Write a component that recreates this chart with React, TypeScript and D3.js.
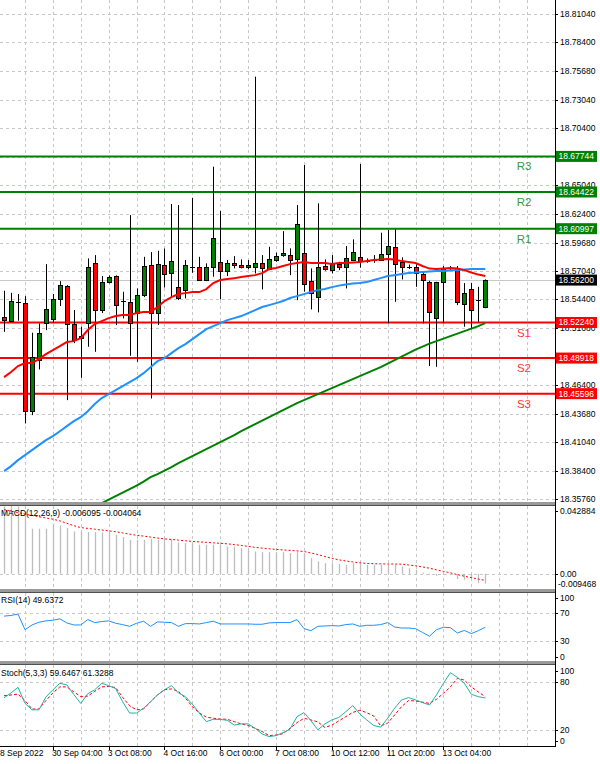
import React from "react";
import * as d3 from "d3";

// ---------- DATA ----------
// bar index (H4 bars), 0 = first grid bar
const bars: number[] = d3.range(-3, 67);

// OHLC [open, high, low, close]
const candles: [number, number, number, number][] = [
  [18.5277, 18.5520, 18.5137, 18.5253],
  [18.5240, 18.5501, 18.5230, 18.5424],
  [18.5414, 18.5489, 18.5240, 18.5419],
  [18.5402, 18.5470, 18.4281, 18.4390],
  [18.4390, 18.5128, 18.4359, 18.4898],
  [18.4873, 18.5215, 18.4786, 18.5122],
  [18.5215, 18.5769, 18.5153, 18.5346],
  [18.5256, 18.5489, 18.5218, 18.5442],
  [18.5442, 18.5610, 18.5377, 18.5573],
  [18.5567, 18.5573, 18.4499, 18.5215],
  [18.5209, 18.5340, 18.5031, 18.5059],
  [18.5078, 18.5184, 18.4707, 18.5097],
  [18.5215, 18.5822, 18.4997, 18.5738],
  [18.5776, 18.5853, 18.4950, 18.5340],
  [18.5340, 18.5657, 18.5312, 18.5604],
  [18.5598, 18.5664, 18.5589, 18.5645],
  [18.5657, 18.5664, 18.5200, 18.5386],
  [18.5424, 18.5511, 18.5262, 18.5419],
  [18.5417, 18.6227, 18.4913, 18.5225],
  [18.5309, 18.5542, 18.4857, 18.5480],
  [18.5480, 18.5837, 18.5461, 18.5751],
  [18.5760, 18.5881, 18.4515, 18.5309],
  [18.5309, 18.5893, 18.5200, 18.5769],
  [18.5760, 18.5914, 18.5550, 18.5676],
  [18.5688, 18.6330, 18.5464, 18.5800],
  [18.5557, 18.6320, 18.5433, 18.5458],
  [18.5526, 18.5807, 18.5449, 18.5760],
  [18.5741, 18.6388, 18.5688, 18.5746],
  [18.5744, 18.5837, 18.5613, 18.5626],
  [18.5620, 18.5776, 18.5610, 18.5738],
  [18.5738, 18.6678, 18.5651, 18.6009],
  [18.5791, 18.6264, 18.5440, 18.5707],
  [18.5697, 18.5807, 18.5657, 18.5776],
  [18.5776, 18.5844, 18.5729, 18.5753],
  [18.5760, 18.5813, 18.5729, 18.5744],
  [18.5738, 18.5807, 18.5720, 18.5760],
  [18.5738, 18.7519, 18.5682, 18.5776],
  [18.5776, 18.5853, 18.5533, 18.5729],
  [18.5723, 18.5931, 18.5713, 18.5816],
  [18.5813, 18.5877, 18.5791, 18.5847],
  [18.5850, 18.6077, 18.5837, 18.5869],
  [18.5853, 18.5916, 18.5666, 18.5807],
  [18.5813, 18.6320, 18.5433, 18.6143],
  [18.5869, 18.6694, 18.5511, 18.5582],
  [18.5610, 18.5729, 18.5346, 18.5496],
  [18.5458, 18.6336, 18.5318, 18.5738],
  [18.5751, 18.5813, 18.5707, 18.5720],
  [18.5720, 18.5853, 18.5682, 18.5781],
  [18.5766, 18.5791, 18.5713, 18.5735],
  [18.5738, 18.5937, 18.5542, 18.5825],
  [18.5807, 18.6000, 18.5800, 18.5879],
  [18.5837, 18.6703, 18.5735, 18.5800],
  [18.5802, 18.5822, 18.5781, 18.5797],
  [18.5807, 18.5853, 18.5781, 18.5804],
  [18.5807, 18.6062, 18.5800, 18.5863],
  [18.5863, 18.6087, 18.5215, 18.5937],
  [18.5931, 18.6093, 18.5417, 18.5776],
  [18.5785, 18.5832, 18.5626, 18.5735],
  [18.5744, 18.5765, 18.5723, 18.5741],
  [18.5738, 18.5769, 18.5557, 18.5685],
  [18.5673, 18.5697, 18.5215, 18.5613],
  [18.5604, 18.5613, 18.4817, 18.5324],
  [18.5262, 18.5604, 18.4810, 18.5598],
  [18.5604, 18.5751, 18.5215, 18.5735],
  [18.5735, 18.5751, 18.5707, 18.5732],
  [18.5729, 18.5751, 18.5386, 18.5408],
  [18.5402, 18.5592, 18.5184, 18.5501],
  [18.5533, 18.5592, 18.5159, 18.5340],
  [18.5432, 18.5557, 18.5230, 18.5437],
  [18.5370, 18.5626, 18.5358, 18.5620],
];

const maRed: number[] = [
  18.4714, 18.4761, 18.4817, 18.4845, 18.4845, 18.4882, 18.4929, 18.4966, 18.5003, 18.5041,
  18.5050, 18.5078, 18.5153, 18.5209, 18.5237, 18.5265, 18.5284, 18.5293, 18.5293, 18.5312,
  18.5321, 18.5321, 18.5368, 18.5424, 18.5461, 18.5489, 18.5498, 18.5508, 18.5508, 18.5536,
  18.5592, 18.5620, 18.5629, 18.5638, 18.5648, 18.5657, 18.5666, 18.5685, 18.5723, 18.5732,
  18.5751, 18.5769, 18.5779, 18.5788, 18.5779, 18.5779, 18.5779, 18.5769, 18.5779, 18.5779,
  18.5783, 18.5788, 18.5797, 18.5807, 18.5811, 18.5816, 18.5811, 18.5797, 18.5788, 18.5779,
  18.5751, 18.5727, 18.5723, 18.5727, 18.5732, 18.5727, 18.5713, 18.5690, 18.5671, 18.5657,
];

const maBlue: number[] = [
  18.3836, 18.3883, 18.3939, 18.3985, 18.4032, 18.4079, 18.4125, 18.4163, 18.4209, 18.4256,
  18.4303, 18.4340, 18.4396, 18.4462, 18.4518, 18.4555, 18.4592, 18.4630, 18.4667, 18.4704,
  18.4751, 18.4807, 18.4863, 18.4891, 18.4938, 18.4985, 18.5022, 18.5069, 18.5115, 18.5162,
  18.5190, 18.5218, 18.5246, 18.5265, 18.5284, 18.5312, 18.5340, 18.5368, 18.5386, 18.5405,
  18.5424, 18.5452, 18.5470, 18.5489, 18.5508, 18.5526, 18.5536, 18.5554, 18.5568, 18.5578,
  18.5587, 18.5592, 18.5601, 18.5620, 18.5638, 18.5657, 18.5666, 18.5676, 18.5685, 18.5690,
  18.5695, 18.5699, 18.5704, 18.5704, 18.5709, 18.5713, 18.5718, 18.5723, 18.5723, 18.5723,
];

// long MA, visible from bar 10 on (earlier values lie below the window)
const maGreen: (number | null)[] = [
  null, null, null, null, null, null, null, null, null, null, null, null, null,
  18.3500, 18.3537, 18.3570, 18.3602, 18.3635, 18.3668, 18.3700, 18.3738, 18.3780, 18.3808,
  18.3841, 18.3873, 18.3911, 18.3943, 18.3976, 18.4009, 18.4041, 18.4074, 18.4107, 18.4139,
  18.4172, 18.4209, 18.4242, 18.4275, 18.4308, 18.4340, 18.4373, 18.4406, 18.4438, 18.4471,
  18.4499, 18.4527, 18.4555, 18.4583, 18.4611, 18.4639, 18.4667, 18.4695, 18.4723, 18.4751,
  18.4779, 18.4807, 18.4840, 18.4873, 18.4905, 18.4938, 18.4971, 18.4999, 18.5027, 18.5050,
  18.5073, 18.5097, 18.5120, 18.5143, 18.5167, 18.5190, 18.5218,
];

const levelNames: string[] = ["R3", "R2", "R1", "S1", "S2", "S3"];
const levelValues: number[] = [18.67744, 18.64422, 18.60997, 18.5224, 18.48918, 18.45596];

const priceTicks: number[] = [
  18.8104, 18.784, 18.7568, 18.7304, 18.704, 18.6768, 18.6504, 18.624, 18.5968,
  18.5704, 18.544, 18.5168, 18.4904, 18.464, 18.4368, 18.4104, 18.384, 18.3576,
];

const macdMain: number[] = [
  0.0420, 0.0430, 0.0420, 0.0368, 0.0281, 0.0281, 0.0281, 0.0312, 0.0301, 0.0285,
  0.0264, 0.0264, 0.0260, 0.0260, 0.0258, 0.0258, 0.0243, 0.0229, 0.0212, 0.0212,
  0.0212, 0.0218, 0.0212, 0.0218, 0.0216, 0.0195, 0.0191, 0.0191, 0.0181, 0.0181,
  0.0181, 0.0181, 0.0170, 0.0170, 0.0160, 0.0150, 0.0139, 0.0135, 0.0135, 0.0135,
  0.0135, 0.0129, 0.0135, 0.0129, 0.0098, 0.0077, 0.0066, 0.0066, 0.0062, 0.0056,
  0.0066, 0.0062, 0.0056, 0.0056, 0.0056, 0.0056, 0.0056, 0.0046, 0.0035, 0.0025,
  0.0008, -0.0006, -0.0012, -0.0006, -0.0006, -0.0033, -0.0037, -0.0028, -0.0058, -0.0061,
];

const macdSignal: number[] = [
  0.0400, 0.0390, 0.0382, 0.0372, 0.0364, 0.0356, 0.0348, 0.0340, 0.0330, 0.0315,
  0.0300, 0.0288, 0.0283, 0.0278, 0.0273, 0.0268, 0.0262, 0.0255, 0.0247, 0.0240,
  0.0235, 0.0229, 0.0223, 0.0218, 0.0214, 0.0210, 0.0206, 0.0202, 0.0199, 0.0196,
  0.0193, 0.0190, 0.0187, 0.0182, 0.0177, 0.0171, 0.0165, 0.0160, 0.0156, 0.0152,
  0.0149, 0.0146, 0.0143, 0.0139, 0.0130, 0.0120, 0.0108, 0.0097, 0.0087, 0.0080,
  0.0074, 0.0068, 0.0065, 0.0063, 0.0062, 0.0061, 0.0061, 0.0060, 0.0055, 0.0050,
  0.0043, 0.0035, 0.0025, 0.0015, 0.0006, -0.0005, -0.0015, -0.0024, -0.0033, -0.0041,
];

const rsi: number[] = [
  66, 67, 69, 46, 53, 57, 59, 60, 62, 56,
  53, 53, 61, 56.5, 58, 59, 55.5, 53.5, 51, 55.5,
  58.5, 51, 57.5, 57, 56.5, 51, 55, 55, 54.5, 56.5,
  58.5, 54.5, 54.5, 54.5, 54.5, 54.5, 54, 54, 56, 56.5,
  56.5, 56.5, 61, 47.7, 44.6, 51, 51.5, 52, 51.5, 53.5,
  54.5, 51, 52.5, 52.5, 53.5, 56.5, 50, 48.5, 48.5, 47.5,
  42, 36.4, 46, 49.6, 49, 41.2, 45, 40.3, 44.6, 49.6372,
];

const stochMain: number[] = [
  60, 66, 73, 53, 45, 45, 61, 70, 78, 76,
  64, 53, 65, 70, 78, 75, 71.5, 55, 41, 41,
  47, 55, 63.5, 70, 75, 66, 61.4, 52, 41, 30.3,
  33.2, 33, 32, 26, 27.5, 27.5, 22, 15, 11.7, 12.9,
  16.6, 21, 36.5, 41.5, 31.6, 20, 27.5, 32.4, 35.6, 42.7,
  50.2, 39.9, 32.4, 25.5, 23.4, 34.5, 47, 57.3, 60.2, 57.3,
  54, 51, 63.5, 78, 91.2, 85.4, 78, 64.3, 61.4, 59.6467,
];

const stochSignal: number[] = [
  62.6, 63.4, 64.6, 56.5, 46, 46, 56.5, 66, 73.5, 73.5,
  67.3, 61.4, 62, 68, 73.5, 74, 72.7, 60.6, 50, 45,
  46, 55, 63.5, 70, 71, 68, 59.6, 49, 41, 36,
  34.5, 33.6, 33.2, 30.3, 27.5, 25.5, 22, 18, 12.9, 13.7,
  15.3, 22, 29, 34.5, 32.4, 30, 23, 26, 31.2, 36.5,
  41.8, 44.4, 41.5, 37.3, 25, 28.3, 38.6, 49, 56.5, 56,
  54.5, 53, 58, 65.6, 73.5, 84.2, 82, 73.5, 67.3, 61.3288,
];

const xLabelText: string[] = [
  "8 Sep 2022", "30 Sep 04:00", "3 Oct 08:00", "4 Oct 16:00", "6 Oct 00:00",
  "7 Oct 08:00", "10 Oct 12:00", "11 Oct 20:00", "13 Oct 04:00",
];
const xLabelBars: number[] = [-4, 4, 12, 20, 28, 36, 44, 52, 60];
const gridBars: number[] = d3.range(0, 73, 4);

// ---------- LAYOUT ----------
const AX = 555; // right axis x
const FONT = "'Liberation Sans', Arial, sans-serif";
const FS = 8.5;

export default function App() {
  const x = d3.scaleLinear().domain([0, 66]).range([25, 25 + 6.974 * 66]);
  const yP = d3.scaleLinear().domain([18.3576, 18.8104]).range([499, 14]);
  const yM = d3.scaleLinear().domain([-0.009468, 0.042884]).range([589, 505]);
  const yR = d3.scaleLinear().domain([0, 100]).range([661, 593]);
  const yS = d3.scaleLinear().domain([0, 100]).range([746, 665.6]);

  const mkLine = (ys: d3.ScaleLinear<number, number>) =>
    d3
      .line<number | null>()
      .defined((d) => d !== null)
      .x((_, i) => x(bars[i]))
      .y((d) => ys(d as number));

  const lineP = mkLine(yP);
  const lineM = mkLine(yM);
  const lineR = mkLine(yR);
  const lineS = mkLine(yS);

  const lastClose = candles[candles.length - 1][3];

  const vGrid = (y0: number, y1: number, key: string) =>
    gridBars.map((b) => (
      <line
        key={key + b}
        x1={Math.round(x(b)) + 0.5}
        x2={Math.round(x(b)) + 0.5}
        y1={y0}
        y2={y1}
        stroke="#c8c8c8"
        strokeDasharray="3,3"
        strokeWidth={1}
      />
    ));

  const hGrid = (y: number, key: string) => (
    <line key={key} x1={0} x2={AX} y1={Math.round(y) + 0.5} y2={Math.round(y) + 0.5} stroke="#c8c8c8" strokeDasharray="3,3" />
  );

  const axisLabel = (y: number, text: string, key: string) => (
    <g key={key}>
      <line x1={AX} x2={AX + 3} y1={Math.round(y) + 0.5} y2={Math.round(y) + 0.5} stroke="#000" />
      <text x={560} y={y} dy="0.35em" fontSize={FS} fontFamily={FONT} fill="#000">
        {text}
      </text>
    </g>
  );

  const boxLabel = (y: number, text: string, fill: string, key: string) => (
    <g key={key}>
      <rect x={556} y={y - 5.5} width={41} height={11} fill={fill} />
      <text x={558.5} y={y} dy="0.35em" fontSize={FS} fontFamily={FONT} fill="#fff">
        {text}
      </text>
    </g>
  );

  const separator = (y: number, key: string) => (
    <g key={key}>
      <rect x={0} y={y} width={AX + 1} height={3} fill="#9a9a9a" />
      <line x1={0} x2={AX + 1} y1={y + 3.5} y2={y + 3.5} stroke="#505050" />
    </g>
  );

  return (
    <svg
      width={600}
      height={764}
      style={{ position: "absolute", left: 0, top: 0, background: "#fff" }}
    >
      <defs>
        <clipPath id="cMain"><rect x={0} y={0} width={AX} height={502} /></clipPath>
        <clipPath id="cMacd"><rect x={0} y={506} width={AX} height={83} /></clipPath>
        <clipPath id="cRsi"><rect x={0} y={593} width={AX} height={68} /></clipPath>
        <clipPath id="cSto"><rect x={0} y={665} width={AX} height={81} /></clipPath>
      </defs>
      <rect x={0} y={0} width={600} height={764} fill="#fff" />

      {/* ---------- MAIN PANEL ---------- */}
      <g>
        {vGrid(0, 502, "mv")}
        {priceTicks.map((p, i) => hGrid(yP(p), "mh" + i))}
      </g>
      <g clipPath="url(#cMain)">
        {/* bid line */}
        <line x1={0} x2={AX} y1={Math.round(yP(lastClose)) + 0.5} y2={Math.round(yP(lastClose)) + 0.5} stroke="#c8c8c8" strokeWidth={1} />
        {/* support / resistance */}
        {levelValues.map((v, i) => (
          <line
            key={"lv" + i}
            x1={0}
            x2={AX}
            y1={yP(v)}
            y2={yP(v)}
            stroke={i < 3 ? "#008000" : "#ff0000"}
            strokeWidth={2}
          />
        ))}
        {levelValues.map((v, i) => (
          <text
            key={"lt" + i}
            x={524}
            y={yP(v) + 10}
            dy="0.35em"
            textAnchor="middle"
            fontSize={11.5}
            fontFamily={FONT}
            fill={i < 3 ? "#3a9a3a" : "#ff3838"}
          >
            {levelNames[i]}
          </text>
        ))}
        {/* candles */}
        {candles.map((c, i) => {
          const [o, h, l, cl] = c;
          const px = Math.round(x(bars[i]));
          const up = cl >= o;
          const yTop = yP(Math.max(o, cl));
          const yBot = yP(Math.min(o, cl));
          const bodyH = yBot - yTop;
          return (
            <g key={"c" + i}>
              <line x1={px + 0.5} x2={px + 0.5} y1={yP(h)} y2={yP(l)} stroke="#000" strokeWidth={1} />
              {bodyH < 1.5 ? (
                <line x1={px - 2} x2={px + 3} y1={Math.round(yTop) + 0.5} y2={Math.round(yTop) + 0.5} stroke="#000" />
              ) : (
                <rect
                  x={px - 1.5}
                  y={Math.round(yTop) + 0.5}
                  width={4}
                  height={Math.max(1, Math.round(bodyH))}
                  fill={up ? "#008000" : "#ff0000"}
                  stroke="#000"
                  strokeWidth={1}
                />
              )}
            </g>
          );
        })}
        {/* moving averages */}
        <path d={lineP(maGreen) || ""} fill="none" stroke="#008000" strokeWidth={2} />
        <path d={lineP(maBlue) || ""} fill="none" stroke="#1e90ff" strokeWidth={2} />
        <path d={lineP(maRed) || ""} fill="none" stroke="#ff0000" strokeWidth={2} />
      </g>
      {/* price axis labels */}
      {priceTicks.map((p, i) => axisLabel(yP(p), p.toFixed(5), "pt" + i))}
      {levelValues.map((v, i) => boxLabel(yP(v), v.toFixed(5), i < 3 ? "#008000" : "#ff0000", "bx" + i))}
      {boxLabel(yP(lastClose), lastClose.toFixed(5), "#000", "bxlast")}

      {separator(502, "s1")}

      {/* ---------- MACD ---------- */}
      {vGrid(506, 589, "macv")}
      {hGrid(yM(0), "mac0")}
      <g clipPath="url(#cMacd)">
        {macdMain.map((v, i) => {
          const px = Math.round(x(bars[i])) + 0.5;
          return (
            <line key={"mh" + i} x1={px} x2={px} y1={yM(0)} y2={yM(v)} stroke="#bdbdbd" strokeWidth={1.3} />
          );
        })}
        <path d={lineM(macdSignal) || ""} fill="none" stroke="#ff0000" strokeWidth={1} strokeDasharray="2,2" />
      </g>
      <text x={1} y={516} fontSize={FS} fontFamily={FONT} fill="#000">MACD(12,26,9) -0.006095 -0.004064</text>
      {axisLabel(511, "0.042884", "ma1")}
      {axisLabel(yM(0), "0.00", "ma2")}
      <text x={558} y={584.5} dy="0.35em" fontSize={FS} fontFamily={FONT} fill="#000">-0.009468</text>

      {separator(589, "s2")}

      {/* ---------- RSI ---------- */}
      {vGrid(593, 661, "rsv")}
      {hGrid(yR(70), "r70")}
      {hGrid(yR(30), "r30")}
      <g clipPath="url(#cRsi)">
        <path d={lineR(rsi) || ""} fill="none" stroke="#1e90ff" strokeWidth={1} />
      </g>
      <text x={1} y={603} fontSize={FS} fontFamily={FONT} fill="#000">RSI(14) 49.6372</text>
      {axisLabel(597.7, "100", "r1")}
      {axisLabel(yR(70), "70", "r2")}
      {axisLabel(yR(30), "30", "r3")}
      {axisLabel(657.3, "0", "r4")}

      {separator(661, "s3")}

      {/* ---------- STOCH ---------- */}
      {vGrid(665, 746, "stv")}
      {hGrid(yS(80), "s80")}
      {hGrid(yS(20), "s20")}
      <g clipPath="url(#cSto)">
        <path d={lineS(stochSignal) || ""} fill="none" stroke="#ff0000" strokeWidth={1} strokeDasharray="3,2" />
        <path d={lineS(stochMain) || ""} fill="none" stroke="#20b2aa" strokeWidth={1} />
      </g>
      <text x={1} y={676} fontSize={FS} fontFamily={FONT} fill="#000">Stoch(5,3,3) 59.6467 61.3288</text>
      {axisLabel(670.7, "100", "st1")}
      {axisLabel(yS(80), "80", "st2")}
      {axisLabel(yS(20), "20", "st3")}
      {axisLabel(740.7, "0", "st4")}

      {/* bottom border and right axis */}
      <line x1={0} x2={AX + 1} y1={746.5} y2={746.5} stroke="#000" />
      <line x1={AX + 0.5} x2={AX + 0.5} y1={0} y2={747} stroke="#000" />

      {/* time labels */}
      {xLabelBars.map((b, i) => {
        const px = x(b);
        return (
          <g key={"xl" + i}>
            {px > 0 && <line x1={Math.round(px) + 0.5} x2={Math.round(px) + 0.5} y1={747} y2={750} stroke="#000" />}
            <text x={Math.max(0, px - 1)} y={753.5} dy="0.35em" fontSize={FS} fontFamily={FONT} fill="#000">
              {xLabelText[i]}
            </text>
          </g>
        );
      })}
    </svg>
  );
}
